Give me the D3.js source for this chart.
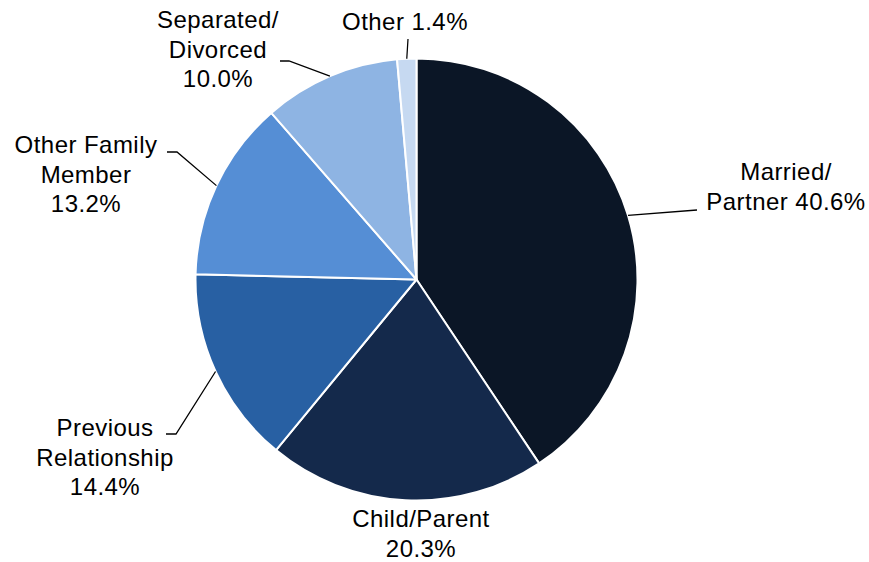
<!DOCTYPE html>
<html>
<head>
<meta charset="utf-8">
<script src="https://cdn.jsdelivr.net/npm/d3@7"></script>
<style>
  html, body { margin: 0; padding: 0; background: #fff; }
  svg { display: block; }
  text { font-family: "Liberation Sans", Arial, sans-serif; font-size: 24px; letter-spacing: 0.45px; fill: #000; }
</style>
</head>
<body>
<svg id="chart" width="869" height="562"></svg>
<script>
// ---- data ----
const categories = ["Married/Partner", "Child/Parent", "Previous Relationship", "Other Family Member", "Separated/Divorced", "Other"];
const values = [40.6, 20.3, 14.4, 13.2, 10.0, 1.4];
const labelLines = [
  ["Married/", "Partner 40.6%"],
  ["Child/Parent", "20.3%"],
  ["Previous", "Relationship", "14.4%"],
  ["Other Family", "Member", "13.2%"],
  ["Separated/", "Divorced", "10.0%"],
  ["Other 1.4%"]
];
const colors = ["#0b1626", "#14294b", "#2860a3", "#558ed5", "#8eb4e3", "#c6d9f1"];

// ---- layout ----
const W = 869, H = 562;
const cx = 416.5, cy = 279.5, R = 221;
const lineH = 29.5;
// label block: center x, first-line center y; leader elbow (end near label)
const labelPos = [
  { x: 786, y: 172, elbow: [[697, 210]] },
  { x: 421, y: 519, elbow: null },
  { x: 105, y: 428, elbow: [[176, 434], [166, 434]] },
  { x: 86,  y: 145, elbow: [[177, 152], [167, 152]] },
  { x: 218, y: 20,  elbow: [[289, 61], [280, 61]] },
  { x: 405, y: 22,  elbow: [[408, 39]] }
];

const svg = d3.select("#chart");
const g = svg.append("g").attr("transform", `translate(${cx},${cy})`);

const pie = d3.pie().sort(null).value(d => d)(values);
const arc = d3.arc().innerRadius(0).outerRadius(R);

g.selectAll("path.slice")
  .data(pie)
  .join("path")
  .attr("class", "slice")
  .attr("d", arc)
  .attr("fill", (d, i) => colors[i])
  .attr("stroke", "#fff")
  .attr("stroke-width", 2)
  .attr("stroke-linejoin", "round");

// leader lines
pie.forEach((d, i) => {
  const lp = labelPos[i];
  if (!lp.elbow) return;
  const a = (d.startAngle + d.endAngle) / 2;
  const start = [cx + R * Math.sin(a), cy - R * Math.cos(a)];
  const pts = [start].concat(lp.elbow);
  svg.append("path")
    .attr("d", d3.line()(pts))
    .attr("fill", "none")
    .attr("stroke", "#000")
    .attr("stroke-width", 1.3);
});

// labels
labelLines.forEach((lines, i) => {
  const lp = labelPos[i];
  const t = svg.append("text")
    .attr("text-anchor", "middle");
  lines.forEach((ln, j) => {
    t.append("tspan")
      .attr("x", lp.x)
      .attr("y", lp.y + j * lineH)
      .attr("dy", "0.35em")
      .text(ln);
  });
});
</script>
</body>
</html>
